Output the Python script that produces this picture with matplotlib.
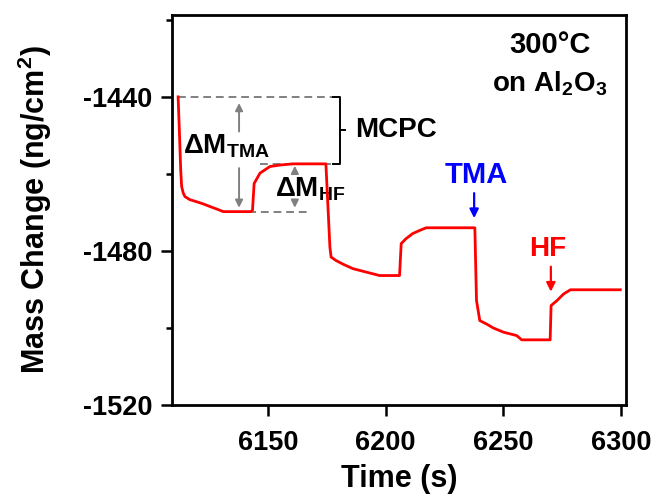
import matplotlib
matplotlib.use("Agg")
import matplotlib.pyplot as plt

plt.rcParams['font.family'] = ['Liberation Sans', 'DejaVu Sans']
plt.rcParams['font.weight'] = 'bold'
plt.rcParams['axes.labelweight'] = 'bold'
plt.rcParams['axes.unicode_minus'] = False
plt.rcParams['mathtext.fontset'] = 'custom'
plt.rcParams['mathtext.rm'] = 'Liberation Sans:bold'
plt.rcParams['mathtext.it'] = 'Liberation Sans:bold'
plt.rcParams['mathtext.bf'] = 'Liberation Sans:bold'

# QCM trace (time in s, mass in ng/cm2)
time = [6111.8, 6112.4, 6112.9, 6113.3, 6114.0, 6114.7, 6116.8, 6120.0, 6122.5, 6125.4, 6128.5, 6131.0,
        6142.7, 6143.4, 6144.1, 6146.6, 6150.8, 6155.1, 6160.6,
        6174.6, 6176.3, 6176.8, 6178.9, 6181.7, 6186.0, 6191.7, 6197.4,
        6205.9, 6206.6, 6208.7, 6211.5, 6214.4, 6217.2,
        6237.9, 6238.6, 6240.0, 6242.9, 6245.7, 6250.0, 6255.7, 6257.8,
        6269.9, 6270.3, 6272.8, 6275.6, 6278.5, 6299.7]
mass = [-1440.0, -1450.0, -1459.0, -1463.3, -1465.0, -1465.9, -1466.7, -1467.3, -1467.8, -1468.5, -1469.2, -1469.8,
        -1469.8, -1469.5, -1462.5, -1459.8, -1458.1, -1457.7, -1457.4,
        -1457.4, -1479.0, -1481.6, -1482.5, -1483.4, -1484.6, -1485.5, -1486.4,
        -1486.4, -1478.1, -1476.8, -1475.5, -1474.7, -1474.0,
        -1474.0, -1492.9, -1498.1, -1499.0, -1500.0, -1501.1, -1502.0, -1503.1,
        -1503.1, -1494.2, -1492.9, -1491.2, -1490.1, -1490.1]

# reference levels for the MCPC annotation
top_level = -1440.0
hf_level = -1457.4
tma_level = -1469.8
x_tma_arrow = 6137.7
x_hf_arrow = 6161.4
x_tma_pulse = 6237.6
x_hf_pulse = 6270.2

fig = plt.figure(figsize=(6.54, 4.95), dpi=100)
ax = fig.add_axes([0.263, 0.182, 0.6937, 0.788])

gray = '#808080'
dash = (0, (4, 2.5))
ax.plot([6111.8, 6177.6], [top_level, top_level], ls=dash, color=gray, lw=1.4, zorder=2)
ax.plot([6146.6, 6177.6], [hf_level, hf_level], ls=dash, color=gray, lw=1.4, zorder=2)
ax.plot([6130.9, 6167.8], [tma_level, tma_level], ls=dash, color=gray, lw=1.4, zorder=2)

ax.plot(time, mass, color='#ff0000', lw=2.0, zorder=4)

# bracket for MCPC
ax.plot([6177.6, 6180.6, 6180.6, 6177.6], [top_level, top_level, hf_level, hf_level],
        color='black', lw=1.4, zorder=3)
ax.plot([6180.6, 6182.7], [-1448.7, -1448.7], color='black', lw=1.4, zorder=3)

# gray arrows, split around the labels
ap = dict(arrowstyle='-|>', color=gray, lw=1.4, mutation_scale=11, shrinkA=0, shrinkB=0)
ax.annotate('', xy=(x_tma_arrow, -1441.6), xytext=(x_tma_arrow, -1449.0), arrowprops=ap)
ax.annotate('', xy=(x_tma_arrow, -1468.8), xytext=(x_tma_arrow, -1458.5), arrowprops=ap)
ax.annotate('', xy=(x_hf_arrow, -1457.9), xytext=(x_hf_arrow, -1460.0), arrowprops=ap)
ax.annotate('', xy=(x_hf_arrow, -1468.8), xytext=(x_hf_arrow, -1466.7), arrowprops=ap)

ax.text(6113.9, -1454.6, 'ΔM$_{\\rm TMA}$', fontsize=20, ha='left', va='baseline', zorder=3)
ax.text(6153.0, -1465.9, 'ΔM$_{\\rm HF}$', fontsize=20, ha='left', va='baseline', zorder=3)
ax.text(6187.0, -1450.3, 'MCPC', fontsize=20, ha='left', va='baseline')

ax.text(6238.6, -1462.4, 'TMA', fontsize=21, color='#0000ff', ha='center', va='baseline')
ax.annotate('', xy=(x_tma_pulse, -1471.5), xytext=(x_tma_pulse, -1465.0),
            arrowprops=dict(arrowstyle='-|>', color='#0000ff', lw=1.6, mutation_scale=13, shrinkA=0, shrinkB=0))
ax.text(6268.9, -1481.4, 'HF', fontsize=20, color='#ff0000', ha='center', va='baseline')
ax.annotate('', xy=(x_hf_pulse, -1490.6), xytext=(x_hf_pulse, -1484.1),
            arrowprops=dict(arrowstyle='-|>', color='#ff0000', lw=1.6, mutation_scale=13, shrinkA=0, shrinkB=0))

ax.text(6269.8, -1428.65, '300°C', fontsize=21, ha='center', va='baseline')
ax.text(6269.8, -1438.6, 'on Al$_2$O$_3$', fontsize=20, ha='center', va='baseline')

ax.set_xlim(6109.2, 6302)
ax.set_ylim(-1520, -1418.7)
ax.set_xticks([6150, 6200, 6250, 6300])
ax.set_yticks([-1520, -1480, -1440])
ax.set_yticks([-1500, -1460, -1420], minor=True)

for s in ax.spines.values():
    s.set_linewidth(2.0)
ax.tick_params(axis='both', which='major', direction='out', length=8, width=1.8, labelsize=19.5)
ax.tick_params(axis='y', which='major', pad=6)
ax.tick_params(axis='x', which='major', pad=10)
ax.tick_params(axis='y', which='minor', direction='out', length=4, width=1.8)

ax.set_xlabel('Time (s)', fontsize=22, labelpad=6)
ax.set_ylabel('Mass Change (ng/cm$^2$)', fontsize=22, labelpad=21)

fig.savefig('out.png', dpi=100)
